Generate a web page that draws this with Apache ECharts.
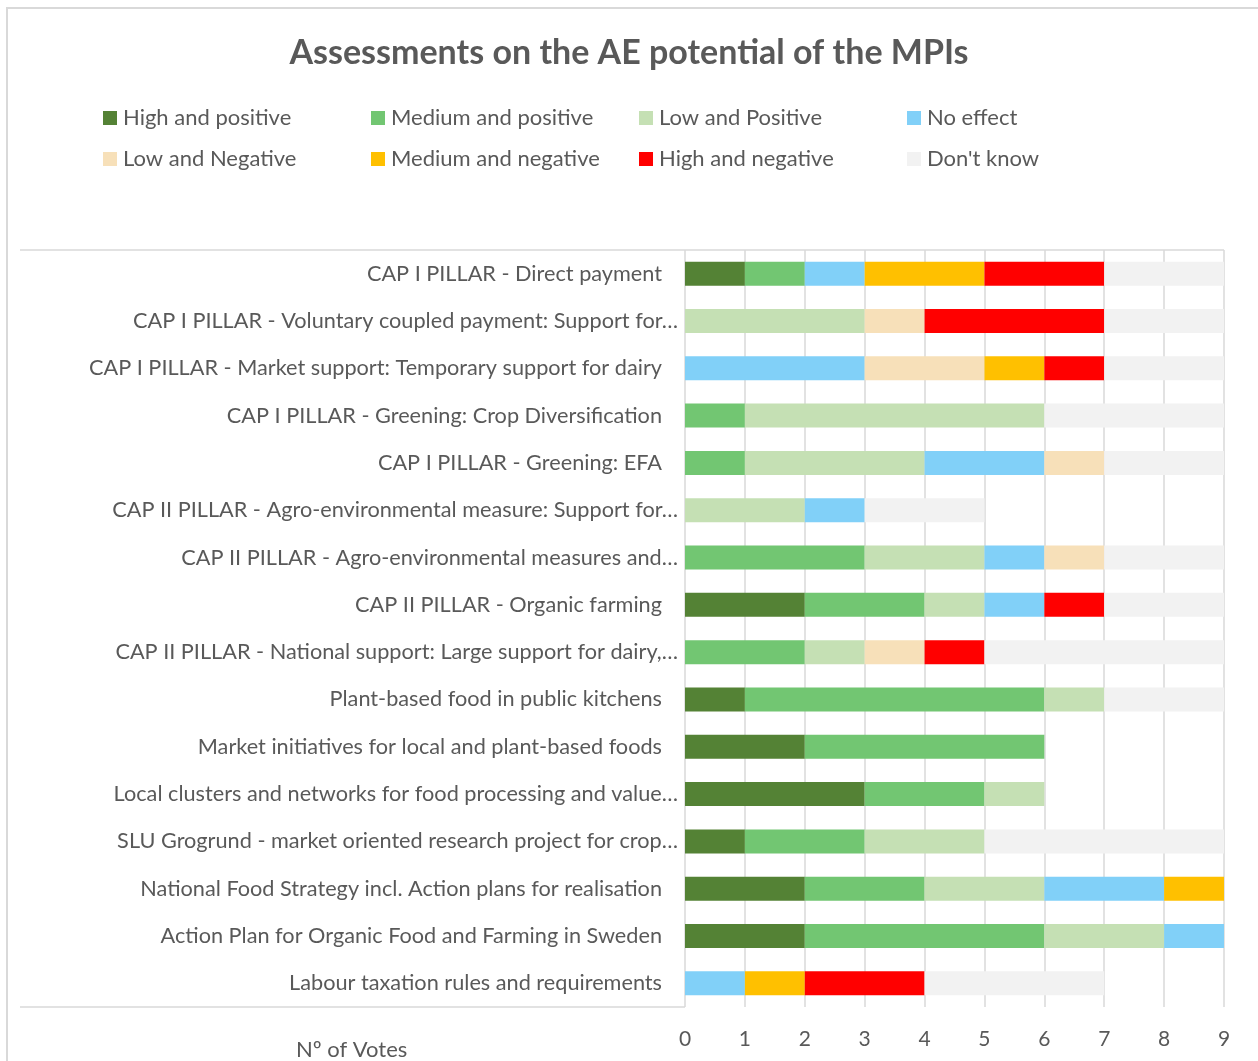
<!DOCTYPE html>
<html>
<head>
<meta charset="utf-8">
<script src="https://cdn.jsdelivr.net/npm/echarts@6/dist/echarts.min.js"></script>
<style>
  html, body { margin: 0; padding: 0; background: #fff; }
  #main { width: 1258px; height: 1061px; }
</style>
</head>
<body>
<div id="main"></div>
<script>
// measures, top to bottom
const categories = [
  'CAP I PILLAR - Direct payment',
  'CAP I PILLAR - Voluntary coupled payment: Support for…',
  'CAP I PILLAR - Market support: Temporary support for dairy',
  'CAP I PILLAR - Greening: Crop Diversification',
  'CAP I PILLAR - Greening: EFA',
  'CAP II PILLAR - Agro-environmental measure: Support for…',
  'CAP II PILLAR - Agro-environmental measures and…',
  'CAP II PILLAR - Organic farming',
  'CAP II PILLAR - National support: Large support for dairy,…',
  'Plant-based food in public kitchens',
  'Market initiatives for local and plant-based foods',
  'Local clusters and networks for food processing and value…',
  'SLU Grogrund - market oriented research project for crop…',
  'National Food Strategy incl. Action plans for realisation',
  'Action Plan for Organic Food and Farming in Sweden',
  'Labour taxation rules and requirements'
];

const seriesNames = [
  'High and positive', 'Medium and positive', 'Low and Positive', 'No effect',
  'Low and Negative', 'Medium and negative', 'High and negative', "Don't know"
];

const highPos  = [1, 0, 0, 0, 0, 0, 0, 2, 0, 1, 2, 3, 1, 2, 2, 0];
const medPos   = [1, 0, 0, 1, 1, 0, 3, 2, 2, 5, 4, 2, 2, 2, 4, 0];
const lowPos   = [0, 3, 0, 5, 3, 2, 2, 1, 1, 1, 0, 1, 2, 2, 2, 0];
const noEffect = [1, 0, 3, 0, 2, 1, 1, 1, 0, 0, 0, 0, 0, 2, 1, 1];
const lowNeg   = [0, 1, 2, 0, 1, 0, 1, 0, 1, 0, 0, 0, 0, 0, 0, 0];
const medNeg   = [2, 0, 1, 0, 0, 0, 0, 0, 0, 0, 0, 0, 0, 1, 0, 1];
const highNeg  = [2, 3, 1, 0, 0, 0, 0, 1, 1, 0, 0, 0, 0, 0, 0, 2];
const dontKnow = [2, 2, 2, 3, 2, 2, 2, 2, 4, 2, 0, 0, 4, 0, 0, 3];

const xTicks = [0, 1, 2, 3, 4, 5, 6, 7, 8, 9];

const colors = ['#548235', '#72C672', '#C5E0B4', '#81D0F8', '#F7E0B9', '#FFC000', '#FF0000', '#F2F2F2'];
const values = [highPos, medPos, lowPos, noEffect, lowNeg, medNeg, highNeg, dontKnow];

const FONT = 'Lato';
const GREY = '#595959';

let myChart = echarts.init(document.getElementById('main'));

// one legend per item so the columns line up like the original
const legends = seriesNames.map((name, i) => ({
  data: [name],
  left: 103 + (i % 4) * 268,
  top: 107 + Math.floor(i / 4) * 41,
  padding: 0,
  itemWidth: 14,
  itemHeight: 14,
  itemGap: 0,
  icon: 'rect',
  textStyle: { color: GREY, fontSize: 22, fontFamily: FONT, padding: [0, 0, 0, 1] },
  selectedMode: false
}));

myChart.setOption({
  animation: false,
  color: colors,
  title: [{
    text: 'Assessments on the AE potential of the MPIs',
    left: 'center',
    top: 31,
    padding: [5, 0, 5, 10],
    textStyle: { color: GREY, fontSize: 34, fontWeight: 'bold', fontFamily: FONT }
  }, {
    text: 'Nº of Votes',
    left: 291,
    top: 1034,
    textStyle: { color: GREY, fontSize: 22, fontWeight: 'normal', fontFamily: FONT }
  }],
  legend: legends,
  grid: {
    left: 685,
    right: 34,
    top: 250,
    bottom: 54,
    outerBoundsMode: 'none'
  },
  xAxis: {
    type: 'value',
    min: 0,
    max: 9,
    interval: 1,
    axisLine: { show: false },
    axisTick: { show: false },
    splitLine: { lineStyle: { color: '#D9D9D9', width: 1.5 } },
    axisLabel: {
      color: GREY, fontSize: 21, fontFamily: FONT, margin: 22,
      formatter: v => xTicks.includes(v) ? String(v) : ''
    }
  },
  yAxis: {
    type: 'category',
    inverse: true,
    data: categories,
    axisLine: { show: false },
    axisTick: { show: false },
    axisLabel: {
      margin: 7,
      formatter: v => v.endsWith('…') ? '{t|' + v + '}' : '{n|' + v + '}',
      rich: {
        t: { color: GREY, fontSize: 21.7, fontFamily: FONT },
        n: { color: GREY, fontSize: 21.7, fontFamily: FONT, padding: [0, 16, 0, 0] }
      }
    }
  },
  graphic: [
    { type: 'rect', shape: { x: 7, y: 8, width: 1300, height: 1100 }, style: { fill: 'none', stroke: '#D9D9D9', lineWidth: 2 }, silent: true },
    { type: 'line', shape: { x1: 20, y1: 250, x2: 1224, y2: 250 }, style: { stroke: '#D9D9D9', lineWidth: 1.5 }, silent: true },
    { type: 'line', shape: { x1: 20, y1: 1007, x2: 685, y2: 1007 }, style: { stroke: '#D9D9D9', lineWidth: 1.5 }, silent: true }
  ],
  series: seriesNames.map((name, i) => ({
    name: name,
    type: 'bar',
    stack: 'votes',
    barWidth: 24,
    data: values[i],
    itemStyle: { color: colors[i] }
  }))
});

window.onresize = function () {
  myChart.resize();
};
</script>
</body>
</html>
